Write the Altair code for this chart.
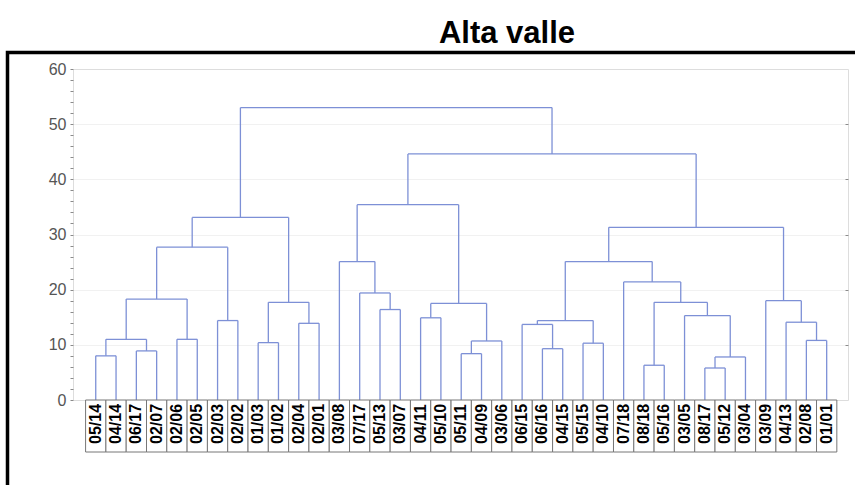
import altair as alt
import pandas as pd

# ---------------- data ----------------
title_text = "Alta valle"

leaf_labels = ["05/14", "04/14", "06/17", "02/07", "02/06", "02/05", "02/03", "02/02",
               "01/03", "01/02", "02/04", "02/01", "03/08", "07/17", "05/13", "03/07",
               "04/11", "05/10", "05/11", "04/09", "03/06", "06/15", "06/16", "04/15",
               "05/15", "04/10", "07/18", "08/18", "05/16", "03/05", "08/17", "05/12",
               "03/04", "03/09", "04/13", "02/08", "01/01"]

# merge k creates cluster id 37 + k ; ids < 37 are leaves
merge_left = [0, 2, 37, 4, 39, 6, 41, 8, 10, 44, 43, 14, 13, 12, 16, 18, 52, 51,
              50, 22, 21, 24, 57, 27, 30, 61, 29, 60, 26, 59, 35, 34, 33, 66, 55, 47]
merge_right = [1, 3, 38, 5, 40, 7, 42, 9, 11, 45, 46, 15, 48, 49, 17, 19, 20, 53,
               54, 23, 56, 25, 58, 28, 31, 32, 62, 63, 64, 65, 36, 67, 68, 69, 70, 71]
merge_height = [8.0, 8.9, 11.0, 11.0, 18.3, 14.4, 27.7, 10.4, 13.9, 17.7, 33.1, 16.4,
                19.4, 25.1, 14.9, 8.4, 10.7, 17.5, 35.4, 9.3, 13.7, 10.3, 14.4, 6.3,
                5.8, 7.8, 15.3, 17.7, 21.4, 25.1, 10.8, 14.1, 18.0, 31.3, 44.6, 53.0]

y_ticks_major = [0, 10, 20, 30, 40, 50, 60]

# ---------------- layout constants ----------------
PLOT_W, PLOT_H = 775, 331
X_MIN, X_MAX = -1.12, 37.05
Y_MIN, Y_MAX = 0, 60
BOX_DEPTH = 52 / PLOT_H * (Y_MAX - Y_MIN)   # label boxes below the axis, in data units
TEXT_Y = -4.35
LINE_COLOR = "#7d90d6"
FONT = "Liberation Sans"

# ---------------- dendrogram geometry from the linkage ----------------
n = len(leaf_labels)
pos = {i: float(i) for i in range(n)}
hgt = {i: 0.0 for i in range(n)}
segs = []
for k, (a, b, h) in enumerate(zip(merge_left, merge_right, merge_height)):
    xa, xb = pos[a], pos[b]
    segs.append({"x": xa, "x2": xa, "y": hgt[a], "y2": h, "kind": "v"})
    segs.append({"x": xb, "x2": xb, "y": hgt[b], "y2": h, "kind": "v"})
    segs.append({"x": xa, "x2": xb, "y": h, "y2": h, "kind": "h"})
    pos[n + k] = (xa + xb) / 2
    hgt[n + k] = h
seg_df = pd.DataFrame(segs)
vert_df = seg_df[seg_df.kind == "v"]
horiz_df = seg_df[seg_df.kind == "h"]

leaf_df = pd.DataFrame({
    "i": list(range(n)),
    "label": leaf_labels,
})
leaf_df["bx"] = leaf_df["i"] - 0.5
leaf_df["bx2"] = leaf_df["i"] + 0.5
leaf_df["by"] = 0.0
leaf_df["by2"] = -BOX_DEPTH
leaf_df["ty"] = TEXT_Y

xs = alt.Scale(domain=[X_MIN, X_MAX], nice=False, zero=False)
ys = alt.Scale(domain=[Y_MIN, Y_MAX], nice=False, zero=False)

top_axis = alt.Axis(orient="top", values=list(range(n)), labels=False, tickSize=3,
                    offset=-3, tickColor="#8a8a8a", domain=False, grid=False, title=None)
left_axis = alt.Axis(orient="left", values=list(range(0, 61, 2)),
                     labelExpr="datum.value % 10 === 0 ? datum.label : ''",
                     labelOverlap=False, tickSize=3, tickColor="#8a8a8a", domain=False,
                     grid=False, labelFontSize=16, labelColor="#555555", labelFont=FONT,
                     labelPadding=4, title=None)
right_axis = alt.Axis(orient="right", values=y_ticks_major[1:-1], labels=False, tickSize=3,
                      offset=-3, tickColor="#8a8a8a", domain=False, grid=True,
                      gridColor="#f1f1f1", title=None)

verticals = alt.Chart(vert_df).mark_rule(color=LINE_COLOR, strokeWidth=1.3).encode(
    x=alt.X("x:Q", scale=xs, axis=top_axis),
    x2="x2:Q",
    y=alt.Y("y:Q", scale=ys, axis=left_axis),
    y2="y2:Q",
)
horizontals = alt.Chart(horiz_df).mark_rule(color=LINE_COLOR, strokeWidth=1.3).encode(
    x=alt.X("x:Q", scale=xs, axis=None),
    x2="x2:Q",
    y=alt.Y("y:Q", scale=ys, axis=right_axis),
    y2="y2:Q",
)
boxes = alt.Chart(leaf_df).mark_rect(fill="white", stroke="#777777", strokeWidth=1).encode(
    x=alt.X("bx:Q", scale=xs, axis=None),
    x2="bx2:Q",
    y=alt.Y("by:Q", scale=ys, axis=None),
    y2="by2:Q",
)
labels = alt.Chart(leaf_df).mark_text(angle=270, fontSize=16, fontWeight="bold", font=FONT,
                                      color="black", align="center", baseline="middle").encode(
    x=alt.X("i:Q", scale=xs, axis=None),
    y=alt.Y("ty:Q", scale=ys, axis=None),
    text="label:N",
)
frame = alt.Chart(pd.DataFrame({"k": [0]})).mark_rect(
    fillOpacity=0, stroke="black", strokeWidth=3.5).encode(
    x=alt.value(-65.5), x2=alt.value(1000), y=alt.value(-16.5), y2=alt.value(700)
)
title = alt.Chart(pd.DataFrame({"t": [title_text]})).mark_text(
    fontSize=31, fontWeight="bold", font=FONT, color="black",
    align="center", baseline="alphabetic").encode(
    x=alt.value(434), y=alt.value(-26), text="t:N"
)

chart = alt.layer(frame, horizontals, verticals, boxes, labels, title).resolve_axis(
    y="independent"
).properties(
    width=PLOT_W,
    height=PLOT_H,
    autosize=alt.AutoSizeParams(type="none"),
    padding={"left": 73, "top": 69, "right": 7, "bottom": 85},
).configure_view(
    stroke="#8a8a8a", strokeWidth=1.5
).configure(background="white")

chart.save("out.html", embed_options={"renderer": "svg", "actions": False})
